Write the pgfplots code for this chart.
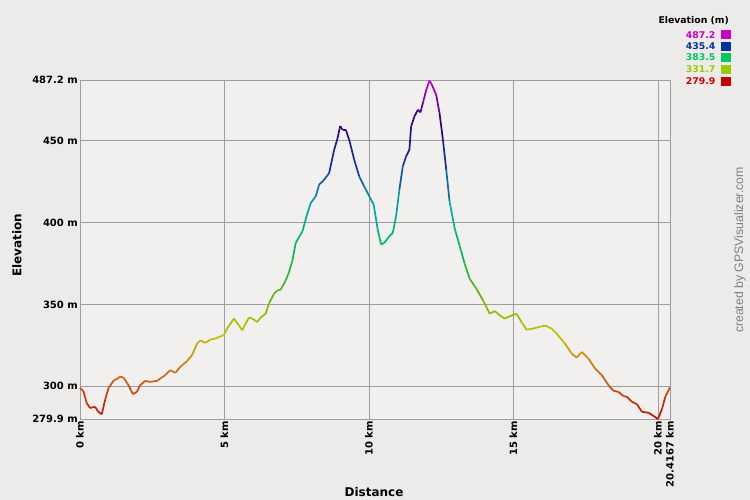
\documentclass[border=0pt]{standalone}
\usepackage{fontspec}
\setmainfont{DejaVu Sans}
\newfontfamily\arialfont{Liberation Sans}
\usepackage{pgfplots}
\pgfplotsset{compat=1.18}
\definecolor{bgout}{RGB}{236,235,233}
\definecolor{bgin}{RGB}{241,240,238}
\definecolor{gridc}{RGB}{158,158,158}
\definecolor{l1}{RGB}{204,0,204}
\definecolor{l2}{RGB}{0,51,153}
\definecolor{l3}{RGB}{0,200,100}
\definecolor{l4}{RGB}{153,204,0}
\definecolor{l5}{RGB}{204,0,0}
\pgfplotsset{colormap={gps}{rgb255=(195,10,0) rgb255=(210,100,20) rgb255=(195,195,0) rgb255=(90,180,20) rgb255=(0,185,95) rgb255=(0,170,180) rgb255=(20,50,160) rgb255=(50,0,120) rgb255=(200,0,210)}}
\pgfplotstableread{
km elev
0 299
0.115 297
0.233 289.6
0.347 286.6
0.521 287.4
0.635 284.3
0.753 282.8
0.868 291.5
0.983 298.6
1.156 303.2
1.389 305.7
1.503 305.3
1.677 300.6
1.830 295.1
1.969 296.5
2.083 300.6
2.257 303.2
2.431 302.6
2.663 303.2
2.778 304.7
2.951 306.7
3.125 309.8
3.299 308.1
3.472 311.8
3.705 315.4
3.878 318.9
4.052 326
4.167 328
4.340 326.4
4.514 328.5
4.688 329.1
4.861 330.5
4.976 331.1
5.094 335.2
5.323 341.3
5.497 337.2
5.615 334.1
5.729 338.2
5.844 341.9
5.962 341.3
6.135 339.2
6.25 341.9
6.424 344.3
6.538 350.4
6.712 356.5
6.830 358.5
6.944 359
7.118 364.6
7.233 369.7
7.351 376.8
7.465 387.6
7.698 394.7
7.872 405.9
7.986 412
8.160 416.1
8.274 423.2
8.448 426.2
8.622 430.3
8.795 444.5
8.913 451.6
9.003 459.1
9.087 456.7
9.201 456.7
9.316 450.6
9.490 438.4
9.663 428.2
9.837 422.1
10.010 416.1
10.163 411
10.302 395.7
10.417 386.6
10.531 387.6
10.705 391.7
10.823 393.7
10.938 403.9
11.052 420.1
11.170 434.4
11.285 440.5
11.399 444.5
11.458 458.8
11.573 464.9
11.691 469
11.781 467.4
11.865 473.1
11.979 481
12.094 486.8
12.177 484.2
12.326 478.1
12.441 467
12.559 450.6
12.674 432.3
12.788 413
12.962 396.7
13.135 386
13.309 375
13.483 365.7
13.715 359.6
13.948 352.4
14.177 344.3
14.351 345.9
14.524 343.3
14.698 341.3
14.872 342.7
15.104 344.3
15.278 339.2
15.451 334.5
15.684 335.2
15.972 336.6
16.146 336.6
16.319 335.2
16.493 332.1
16.781 326
17.014 319.9
17.188 317.5
17.361 320.9
17.594 316.9
17.823 310.8
18.056 306.7
18.288 300.6
18.462 297.1
18.635 296.5
18.809 293.9
18.924 293.5
19.097 290.4
19.271 289
19.444 284.3
19.677 283.7
19.851 281.7
20.0 279.9
20.139 285.9
20.253 293.5
20.372 297.6
20.4167 299.2
}\elevdata
\begin{document}
\begin{tikzpicture}[x=1pt,y=1pt]
\fill[bgout] (0pt,0pt) rectangle (750pt,500pt);
\path[use as bounding box] (0pt,0pt) rectangle (750pt,500pt);
\begin{axis}[
  at={(80pt,81pt)}, anchor=south west,
  scale only axis, width=590pt, height=339pt,
  xmin=0, xmax=20.4167, ymin=279.9, ymax=487.2,
  axis background/.style={fill=bgin},
  axis line style={gridc, line width=0.8pt},
  grid=major, grid style={gridc, line width=0.8pt},
  major tick length=0pt,
  xtick={0,5,10,15,20,20.4167},
  xticklabels={0 km,5 km,10 km,15 km,20 km,20.4167 km},
  ytick={279.9,300,350,400,450,487.2},
  yticklabels={279.9 m,300 m,350 m,400 m,450 m,487.2 m},
  tick label style={font=\fontsize{10}{10}\selectfont\bfseries},
  xticklabel style={rotate=90, anchor=east, inner sep=2pt},
  yticklabel style={inner sep=2pt},
  colormap name=gps,
  point meta min=279.9, point meta max=487.2,
  clip=false,
]
\addplot[mesh, point meta=y, line width=1.7pt] table[x=km, y=elev] {\elevdata};
\end{axis}
\node[rotate=90, font=\fontsize{12}{12}\selectfont\bfseries] at (17pt,255pt) {Elevation};
\node[font=\fontsize{12}{12}\selectfont\bfseries] at (374pt,8pt) {Distance};
\node[rotate=90, text=gray, font=\arialfont\fontsize{12.3}{12.3}\selectfont] at (740pt,250pt) {created by GPSVisualizer.com};
\node[anchor=east, font=\fontsize{9.3}{9.3}\selectfont\bfseries, inner sep=0pt] at (729pt,479pt) {Elevation (m)};
\foreach \yy/\vv/\cc in {465/487.2/l1, 453.5/435.4/l2, 442.5/383.5/l3, 430.5/331.7/l4, 418.5/279.9/l5}{
  \node[anchor=east, text=\cc, font=\fontsize{9.3}{9.3}\selectfont\bfseries, inner sep=0pt] at (715.5pt,\yy pt) {\vv};
  \fill[\cc] (721pt,\yy pt-4.5pt) rectangle (731pt,\yy pt+4.5pt);
}
\end{tikzpicture}
\end{document}
